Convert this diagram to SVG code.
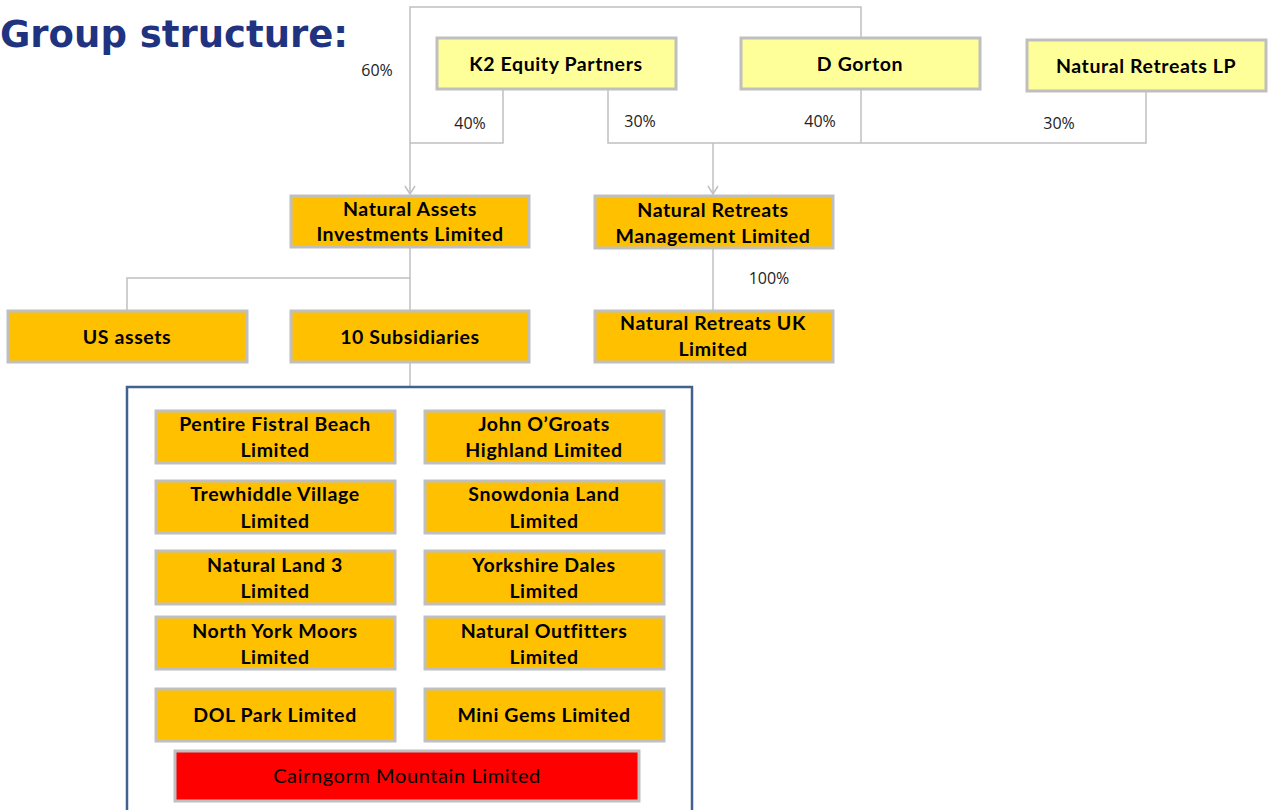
<svg xmlns="http://www.w3.org/2000/svg" width="1268" height="810" viewBox="0 0 1268 810">
<style>
.box{stroke:#BFBFBF;stroke-width:3}
.y{fill:#FFFF99}
.o{fill:#FFC000}
.r{fill:#FF0000}
.t{font-family:Lato,"Liberation Sans",sans-serif;font-weight:bold;font-size:19.5px;letter-spacing:0.6px;fill:#000;text-anchor:middle}
.p{font-family:"Open Sans","Liberation Sans",sans-serif;font-size:16px;fill:#222;text-anchor:middle}
.ln{fill:none;stroke:#C0C0C0;stroke-width:1.5}
</style>
<defs>
<marker id="arr" viewBox="0 0 10 12" refX="9" refY="6" markerWidth="10" markerHeight="12" markerUnits="userSpaceOnUse" orient="auto">
<path d="M1,1 L9,6 L1,11" fill="none" stroke="#C0C0C0" stroke-width="1.5"/>
</marker>
</defs>
<rect width="1268" height="810" fill="#fff"/>
<text x="0" y="47" font-family="DejaVu Sans,Verdana,sans-serif" font-weight="bold" font-size="37" fill="#1F3381">Group structure:</text>

<g id="connectors">
<path class="ln" d="M861,38 V7 H410 V194" marker-end="url(#arr)"/>
<path class="ln" d="M503,89 V143 H410"/>
<path class="ln" d="M608,89 V143 H1146 V91"/>
<path class="ln" d="M861,89 V143"/>
<path class="ln" d="M713,143 V194" marker-end="url(#arr)"/>
<path class="ln" d="M410,247 V311"/>
<path class="ln" d="M410,278 H127 V311"/>
<path class="ln" d="M410,362 V387"/>
<path class="ln" d="M713,248 V311"/>
<text class="p" x="377" y="76">60%</text>
<text class="p" x="470" y="129">40%</text>
<text class="p" x="640" y="127">30%</text>
<text class="p" x="820" y="127">40%</text>
<text class="p" x="1059" y="129">30%</text>
<text class="p" x="769" y="284">100%</text>
</g>

<g id="k2"><rect class="box y" x="437" y="38" width="239" height="51"/><text class="t" x="556" y="71">K2 Equity Partners</text></g>
<g id="dgorton"><rect class="box y" x="741" y="38" width="239" height="51"/><text class="t" x="860" y="71">D Gorton</text></g>
<g id="nrlp"><rect class="box y" x="1027" y="40" width="239" height="51"/><text class="t" x="1146" y="73">Natural Retreats LP</text></g>

<g id="nail"><rect class="box o" x="291" y="196" width="238" height="51"/><text class="t" x="410" y="216">Natural Assets</text><text class="t" x="410" y="241">Investments Limited</text></g>
<g id="nrml"><rect class="box o" x="595" y="196" width="238" height="52"/><text class="t" x="713" y="217">Natural Retreats</text><text class="t" x="713" y="243">Management Limited</text></g>

<g id="usassets"><rect class="box o" x="8" y="311" width="239" height="51"/><text class="t" x="127" y="344">US assets</text></g>
<g id="subs10"><rect class="box o" x="291" y="311" width="238" height="51"/><text class="t" x="410" y="344">10 Subsidiaries</text></g>
<g id="nruk"><rect class="box o" x="595" y="311" width="238" height="51"/><text class="t" x="713" y="330">Natural Retreats UK</text><text class="t" x="713" y="356">Limited</text></g>

<g id="container"><rect x="127" y="387" width="565" height="430" fill="none" stroke="#41618F" stroke-width="2.5"/></g>

<g id="pentire"><rect class="box o" x="156" y="411" width="239" height="52"/><text class="t" x="275" y="431">Pentire Fistral Beach</text><text class="t" x="275" y="457">Limited</text></g>
<g id="johnogroats"><rect class="box o" x="425" y="411" width="239" height="52"/><text class="t" x="544" y="431">John O’Groats</text><text class="t" x="544" y="457">Highland Limited</text></g>
<g id="trewhiddle"><rect class="box o" x="156" y="481" width="239" height="52"/><text class="t" x="275" y="501">Trewhiddle Village</text><text class="t" x="275" y="528">Limited</text></g>
<g id="snowdonia"><rect class="box o" x="425" y="481" width="239" height="52"/><text class="t" x="544" y="501">Snowdonia Land</text><text class="t" x="544" y="528">Limited</text></g>
<g id="naturalland3"><rect class="box o" x="156" y="551" width="239" height="53"/><text class="t" x="275" y="572">Natural Land 3</text><text class="t" x="275" y="598">Limited</text></g>
<g id="yorkshiredales"><rect class="box o" x="425" y="551" width="239" height="53"/><text class="t" x="544" y="572">Yorkshire Dales</text><text class="t" x="544" y="598">Limited</text></g>
<g id="northyork"><rect class="box o" x="156" y="617" width="239" height="52"/><text class="t" x="275" y="638">North York Moors</text><text class="t" x="275" y="664">Limited</text></g>
<g id="outfitters"><rect class="box o" x="425" y="617" width="239" height="52"/><text class="t" x="544" y="638">Natural Outfitters</text><text class="t" x="544" y="664">Limited</text></g>
<g id="dolpark"><rect class="box o" x="156" y="689" width="239" height="52"/><text class="t" x="275" y="722">DOL Park Limited</text></g>
<g id="minigems"><rect class="box o" x="425" y="689" width="239" height="52"/><text class="t" x="544" y="722">Mini Gems Limited</text></g>
<g id="cairngorm"><rect class="box r" x="175" y="751" width="464" height="50"/><text class="t" x="407" y="783" style="font-weight:normal;font-size:20px">Cairngorm Mountain Limited</text></g>
</svg>
